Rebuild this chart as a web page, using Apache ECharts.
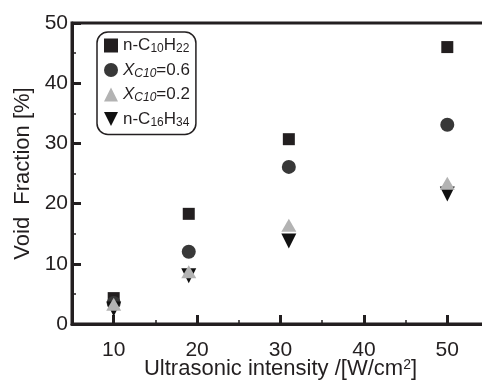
<!DOCTYPE html>
<html><head><meta charset="utf-8">
<script src="https://cdn.jsdelivr.net/npm/echarts@6/dist/echarts.min.js"></script>
<style>html,body{margin:0;padding:0;background:#fff}#c{width:482px;height:380px}</style>
</head><body><div id="c"></div>
<script>
const xTickLabels = [10, 20, 30, 40, 50];
const xMinorTicks = [15, 25, 35, 45];
const yTickLabels = [0, 10, 20, 30, 40, 50];
const xC10H22 = [10, 19, 31, 50];
const yC10H22 = [4.3, 18.3, 30.7, 46.0];
const xX06 = [10, 19, 31, 50];
const yX06 = [3.5, 12.0, 26.1, 33.1];
const xX02 = [10, 19, 31, 50];
const yX02 = [3.3, 8.7, 16.4, 23.4];
const xC16H34 = [10, 19, 31, 50];
const yC16H34 = [2.5, 8.0, 13.8, 21.6];
const seriesNames = ['n-C10H22', 'X06', 'X02', 'n-C16H34'];

const ink = '#231f20';
const font = 'Liberation Sans, Arial, sans-serif';
const zip = (xs, ys) => xs.map((x, i) => [x, ys[i]]);
const legendText = {
  'n-C10H22': 'n-C{sub|10}H{sub|22}',
  'X06': '{it|X}{itsub|C10}=0.6',
  'X02': '{it|X}{itsub|C10}=0.2',
  'n-C16H34': 'n-C{sub|16}H{sub|34}'
};

const chart = echarts.init(document.getElementById('c'), null, {renderer: 'canvas'});
chart.setOption({
  animation: false,
  backgroundColor: '#fff',
  textStyle: {fontFamily: font, color: ink},
  grid: {left: 72, top: 23, width: 417, height: 301, outerBoundsMode: 'none', containLabel: false,
         show: true, borderColor: ink, borderWidth: 3, backgroundColor: 'transparent'},
  legend: {
    orient: 'vertical', left: 97, top: 32,
    padding: [5, 6, 6, 7],
    itemWidth: 14, itemHeight: 14, itemGap: 6.5,
    borderColor: ink, borderWidth: 1.5, borderRadius: 11,
    data: [
      {name: seriesNames[0], icon: 'rect'},
      {name: seriesNames[1], icon: 'circle'},
      {name: seriesNames[2], icon: 'triangle'},
      {name: seriesNames[3], icon: 'path://M0,0 L10,0 L5,10 Z'}
    ],
    formatter: n => legendText[n],
    textStyle: {
      fontFamily: font, fontSize: 17, color: ink, padding: [0, 0, 0, 0],
      rich: {
        sub: {fontFamily: font, fontSize: 12, color: ink, verticalAlign: 'bottom', padding: [7, 0, 0, 0]},
        it: {fontFamily: font, fontSize: 17, fontStyle: 'italic', color: ink},
        itsub: {fontFamily: font, fontSize: 12, fontStyle: 'italic', color: ink, verticalAlign: 'bottom', padding: [7, 0, 0, 0]}
      }
    }
  },
  xAxis: [{
    type: 'value', min: 5, max: 55, interval: 5,
    name: 'Ultrasonic intensity /[W/cm{sup|2}]',
    nameLocation: 'middle', nameGap: 34, nameMoveOverlap: false,
    nameTextStyle: {fontFamily: font, fontSize: 22, color: ink,
      rich: {sup: {fontFamily: font, fontSize: 14, color: ink, verticalAlign: 'top', padding: [0, 0, 8, 0]}}},
    axisLine: {show: true, lineStyle: {color: ink, width: 3}},
    axisTick: {show: true, inside: true, length: 9, lineStyle: {color: ink, width: 3}, customValues: xTickLabels},
    axisLabel: {fontFamily: font, fontSize: 21, color: ink, margin: 16, customValues: xTickLabels},
    splitLine: {show: false}
  }, {
    type: 'value', min: 5, max: 55, position: 'bottom',
    axisLine: {show: false},
    axisTick: {show: true, inside: true, length: 4, lineStyle: {color: ink, width: 1.5}, customValues: xMinorTicks},
    axisLabel: {show: false},
    splitLine: {show: false}
  }],
  yAxis: {
    type: 'value', min: 0, max: 50, interval: 10,
    name: 'Void  Fraction [%]',
    nameLocation: 'middle', nameGap: 38, nameMoveOverlap: false,
    nameTextStyle: {fontFamily: font, fontSize: 22, color: ink},
    axisLine: {show: true, lineStyle: {color: ink, width: 3}},
    axisTick: {show: true, inside: true, length: 9, lineStyle: {color: ink, width: 3}},
    minorTick: {show: true, splitNumber: 2, length: 4, lineStyle: {color: ink, width: 1.5}},
    axisLabel: {fontFamily: font, fontSize: 21, color: ink, margin: 4,
      customValues: yTickLabels},
    splitLine: {show: false}
  },
  series: [
    {name: seriesNames[0], type: 'scatter', symbol: 'rect', symbolSize: 12, z: 2,
     itemStyle: {color: ink, opacity: 1}, data: zip(xC10H22, yC10H22)},
    {name: seriesNames[1], type: 'scatter', symbol: 'circle', symbolSize: 14, z: 3,
     itemStyle: {color: '#383838', opacity: 1}, data: zip(xX06, yX06)},
    {name: seriesNames[2], type: 'scatter', symbol: 'triangle', symbolSize: [15, 13], z: 5,
     itemStyle: {color: '#b3b3b3', opacity: 1}, data: zip(xX02, yX02)},
    {name: seriesNames[3], type: 'scatter', symbol: 'path://M0,0 L10,0 L5,10 Z', symbolSize: [15, 15], z: 4,
     itemStyle: {color: '#111111', opacity: 1}, data: zip(xC16H34, yC16H34)}
  ]
});
</script></body></html>
